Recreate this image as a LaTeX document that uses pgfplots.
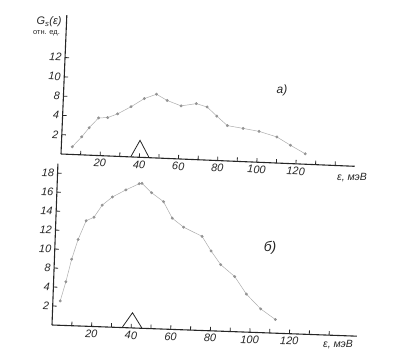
\documentclass[border=0pt]{standalone}
\usepackage{pgfplots}
\pgfplotsset{compat=1.18}
\usepackage{fontspec}
\setmainfont{Liberation Sans}
\begin{document}
\begin{tikzpicture}
\path[use as bounding box] (0,0) rectangle (410bp,362bp);
\pgfplotsset{
  sk/.style={
    scale only axis,
    anchor=south west,
    axis x line*=bottom, axis y line*=left,
    axis line style={line width=1.1pt, black!85},
    tick align=inside,
    major tick length=4bp,
    tick style={line width=0.8pt, black!85},
    xmin=0,
    xtick={10,20,...,140},
    xticklabels={,20,,40,,60,,80,,100,,120,,},
    /pgf/number format/assume math mode=true,
    tick label style={font=\itshape\fontsize{11}{13}\selectfont, black!85},
    clip=false,
  },
  curve/.style={gray!65, line width=0.5pt, mark=*, mark size=1.2pt,
    mark options={fill=gray!85, draw=gray!85}},
  tri/.style={black!85, line width=0.8pt, mark=none},
}
% top panel a)
\begin{scope}[rotate around={-2.4:(61bp,208bp)}]
\begin{axis}[sk, at={(61bp,208bp)}, width=294bp, height=139bp,
  xmax=150, ymin=0, ymax=14.4,
  ytick={2,4,6,8,10}, yticklabels={2,4,8,10,12}]
\addplot[curve] coordinates {(5.6,0.8)(10.2,1.87)(13.8,2.84)(18.4,3.9)(23,3.97)(28,4.4)(34.7,5.2)(41.3,6.1)(47.4,6.6)(53,6.0)(60.2,5.5)(67.9,5.8)(73.5,5.5)(78.6,4.6)(84.2,3.66)(92.3,3.44)(100.5,3.2)(109.7,2.7)(116.8,1.9)(124.5,1.08)};
\addplot[tri] coordinates {(35.6,0)(40,1.76)(45,0)};
\end{axis}
\end{scope}
% bottom panel b)
\begin{scope}[rotate around={-2.1:(52bp,37bp)}]
\begin{axis}[sk, at={(52bp,37bp)}, width=305bp, height=161.5bp,
  xmax=154, ymin=0, ymax=17,
  ytick={2,4,...,16}, yticklabels={2,4,8,10,12,14,16,18}]
\addplot[curve] coordinates {(3.7,2.56)(6.2,4.6)(8.7,7.0)(11.6,9.1)(15.3,11.1)(19.2,11.5)(23.1,12.8)(28.1,13.7)(34.8,14.5)(41.4,15.2)(42.8,15.25)(47.8,14.3)(54,13.4)(58.7,11.7)(64.6,10.8)(74.1,9.9)(78.9,8.4)(84,7.0)(91.3,5.8)(97.5,4.0)(105,2.5)(112.6,1.44)};
\addplot[tri] coordinates {(35.4,0)(40.4,1.6)(45.5,0)};
\end{axis}
\end{scope}
\node[font=\itshape\fontsize{11}{13}\selectfont, black!85] at (49bp,340bp) {G\textsubscript{s}(ε)};
\node[font=\fontsize{7.5}{9}\selectfont, black!85] at (46.5bp,329bp) {отн. ед.};
\node[font=\itshape\fontsize{10.5}{12}\selectfont, black!85] at (352bp,184bp) {ε, мэВ};
\node[font=\itshape\fontsize{10.5}{12}\selectfont, black!85] at (338bp,17bp) {ε, мэВ};
\node[font=\itshape\fontsize{12}{14}\selectfont, black!85] at (282bp,272bp) {а)};
\node[font=\itshape\fontsize{14}{16}\selectfont, black!85] at (270bp,114bp) {б)};
\end{tikzpicture}
\end{document}
